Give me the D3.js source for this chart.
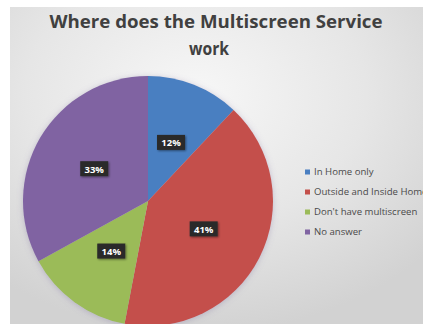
<!DOCTYPE html>
<html>
<head>
<meta charset="utf-8">
<script src="https://cdn.jsdelivr.net/npm/d3@7"></script>
<style>
  html, body { margin: 0; padding: 0; background: #ffffff; }
  svg { display: block; }
</style>
</head>
<body>
<svg id="chart" width="423" height="324"></svg>
<script>
// Survey answers: where the multiscreen service is used
const categories = ["In Home only", "Outside and Inside Home", "Don't have multiscreen", "No answer"];
const shares = [12, 41, 14, 33];
const colors = ["#4a7fc1", "#c4504b", "#9bbb59", "#8064a2"];
const titleLines = ["Where does the Multiscreen Service", "work"];

const W = 423, H = 324;
const svg = d3.select("#chart");
const defs = svg.append("defs");

// Soft grey panel background, lighter towards the upper middle
const bg = defs.append("radialGradient").attr("id", "panelGrad")
  .attr("cx", "45%").attr("cy", "28%").attr("r", "75%");
bg.append("stop").attr("offset", "0%").attr("stop-color", "#f7f7f7");
bg.append("stop").attr("offset", "55%").attr("stop-color", "#e6e6e6");
bg.append("stop").attr("offset", "100%").attr("stop-color", "#d2d2d2");

const pieShadow = defs.append("filter").attr("id", "pieShadow")
  .attr("x", "-20%").attr("y", "-20%").attr("width", "140%").attr("height", "140%");
pieShadow.append("feDropShadow").attr("dx", 0).attr("dy", 1).attr("stdDeviation", 3)
  .attr("flood-color", "#7a6a9a").attr("flood-opacity", 0.35);

const labelShadow = defs.append("filter").attr("id", "labelShadow")
  .attr("x", "-30%").attr("y", "-30%").attr("width", "160%").attr("height", "160%");
labelShadow.append("feDropShadow").attr("dx", 1).attr("dy", 1).attr("stdDeviation", 1)
  .attr("flood-color", "#000").attr("flood-opacity", 0.45);

svg.append("rect").attr("x", 10).attr("y", 7).attr("width", W - 10).attr("height", H - 7)
  .attr("fill", "url(#panelGrad)");

// Title
const title = svg.append("g")
  .attr("font-family", "'Open Sans', 'DejaVu Sans', sans-serif")
  .attr("font-weight", 700).attr("font-size", 18.5).attr("fill", "#404040")
  .attr("text-anchor", "middle");
title.append("text").attr("x", 216).attr("y", 28).text(titleLines[0])
  .attr("textLength", 333).attr("lengthAdjust", "spacingAndGlyphs");
title.append("text").attr("x", 209).attr("y", 55).text(titleLines[1])
  .attr("textLength", 40).attr("lengthAdjust", "spacingAndGlyphs");

// Pie
const cx = 148, cy = 201, R = 125;
const data = categories.map((c, i) => ({ name: c, value: shares[i], color: colors[i] }));
const pie = d3.pie().value(d => d.value).sort(null);
const arc = d3.arc().innerRadius(0).outerRadius(R);
const arcs = pie(data);

const g = svg.append("g").attr("transform", `translate(${cx},${cy})`);
g.append("g").attr("filter", "url(#pieShadow)")
  .selectAll("path").data(arcs).join("path")
  .attr("d", arc)
  .attr("fill", d => d.data.color);

// Data labels in dark boxes
const lbl = g.selectAll("g.lbl").data(arcs).join("g").attr("class", "lbl")
  .attr("transform", d => {
    const [x, y] = arc.centroid(d);
    return `translate(${x},${y})`;
  });
lbl.append("rect")
  .attr("x", -14).attr("y", -8).attr("width", 28).attr("height", 15)
  .attr("fill", "#2a2a2a").attr("filter", "url(#labelShadow)");
lbl.append("text")
  .attr("text-anchor", "middle").attr("y", 3.5)
  .attr("font-family", "'Open Sans', 'DejaVu Sans', sans-serif")
  .attr("font-weight", 700).attr("font-size", 9.5).attr("fill", "#ffffff")
  .text(d => d.data.value + "%");

// Legend
const legend = svg.append("g").attr("transform", "translate(305,172)");
const item = legend.selectAll("g").data(data).join("g")
  .attr("transform", (d, i) => `translate(0,${i * 20})`);
item.append("rect").attr("x", 0).attr("y", -2.5).attr("width", 5).attr("height", 5)
  .attr("fill", d => d.color);
item.append("text").attr("x", 9).attr("y", 3.3)
  .attr("font-family", "'Open Sans', 'DejaVu Sans', sans-serif")
  .attr("font-size", 9.6).attr("fill", "#4a4a4a")
  .text(d => d.name);
</script>
</body>
</html>
